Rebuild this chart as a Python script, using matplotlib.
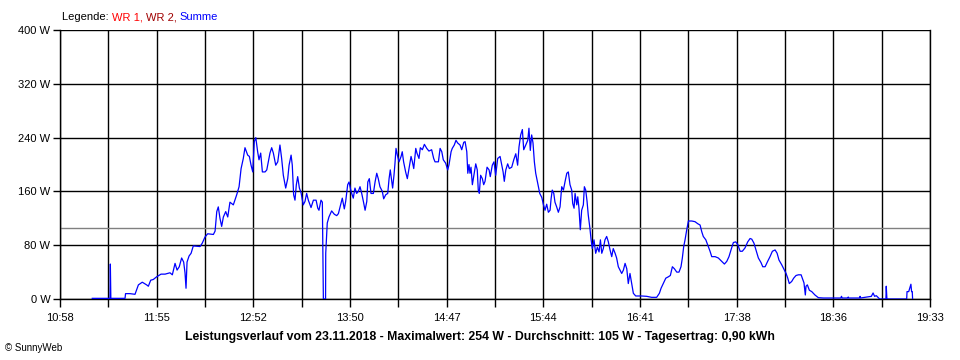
# -*- coding: utf-8 -*-
# Leistungsverlauf (SunnyWeb) nachgebaut
import matplotlib
matplotlib.use('Agg')
import matplotlib.pyplot as plt
from matplotlib.ticker import FixedLocator, NullFormatter

plt.rcParams['font.family'] = ['Liberation Sans', 'DejaVu Sans']

# Zeitachse (Minuten seit Mitternacht)
t_start = 658   # 10:58
t_end = 1173    # 19:33
tick_labels = ['10:58', '11:55', '12:52', '13:50', '14:47',
               '15:44', '16:41', '17:38', '18:36', '19:33']
y_ticks = [0, 80, 160, 240, 320, 400]
avg_w = 105

# Summe (W) - Messzeitpunkte in Minuten seit Mitternacht
t_min = [677.1, 686.6, 687.6, 687.8, 688.1, 696.5, 696.8, 699.4, 702.4, 704.4,
         706.7, 709.3, 710.3, 711.7, 713.2, 715.2, 717.8, 720.2, 723.1, 724.5,
         726.1, 727.3, 728.6, 730.0, 731.2, 732.0, 732.6, 733.2, 734.4, 735.6,
         736.9, 740.9, 742.2, 743.8, 745.4, 748.8, 749.8, 750.8, 751.7, 752.7,
         753.7, 754.7, 756.1, 757.3, 758.6, 760.6, 762.6, 764.0, 765.2, 766.5,
         767.5, 769.1, 770.1, 771.1, 772.1, 773.0, 773.9, 775.0, 775.8, 776.8,
         777.8, 779.4, 780.4, 781.3, 782.3, 783.3, 784.3, 785.7, 786.9, 788.2,
         789.2, 790.2, 791.6, 792.8, 793.6, 794.8, 795.5, 796.3, 797.1, 797.9,
         798.7, 799.7, 800.7, 802.0, 803.0, 804.0, 805.0, 806.6, 808.0, 809.6,
         810.6, 811.3, 812.5, 813.3, 813.9, 815.2, 815.3, 816.2, 817.2, 818.8,
         820.4, 821.8, 822.8, 823.8, 825.1, 826.3, 827.1, 828.3, 829.1, 830.3,
         831.6, 832.6, 833.6, 834.6, 835.6, 836.6, 837.6, 838.6, 839.6, 840.2,
         841.1, 842.1, 843.5, 844.5, 845.5, 846.4, 847.4, 848.8, 849.6, 850.8,
         852.0, 852.8, 853.5, 854.4, 854.9, 855.7, 856.3, 856.9, 857.7, 858.7,
         859.9, 860.6, 861.4, 862.6, 863.6, 864.6, 865.8, 866.6, 867.4, 868.6,
         869.3, 870.5, 871.3, 872.5, 873.7, 875.1, 876.4, 878.0, 879.2, 880.0,
         882.0, 883.0, 884.0, 884.9, 886.3, 887.5, 888.3, 889.5, 890.2, 891.4,
         892.4, 893.4, 894.8, 895.8, 897.0, 897.8, 898.8, 899.4, 900.1, 900.7,
         901.3, 902.1, 903.3, 904.1, 905.0, 905.6, 906.2, 907.0, 908.0, 908.8,
         909.6, 910.8, 912.0, 912.7, 913.9, 914.9, 915.9, 917.1, 918.5, 919.5,
         920.3, 921.0, 921.9, 923.0, 924.0, 925.4, 926.6, 927.8, 928.9, 929.7,
         930.7, 931.7, 932.5, 933.7, 934.9, 935.6, 936.4, 937.2, 938.0, 938.8,
         939.6, 940.4, 941.2, 942.0, 943.2, 944.1, 945.1, 946.1, 947.1, 948.1,
         948.7, 949.4, 950.3, 951.0, 952.0, 953.0, 954.0, 955.0, 956.0, 957.0,
         958.0, 958.9, 959.9, 960.9, 961.5, 962.3, 962.9, 963.9, 964.5, 965.2,
         966.0, 966.8, 967.8, 968.4, 969.2, 970.0, 970.7, 971.6, 972.4, 973.1,
         974.1, 975.1, 976.1, 977.1, 977.9, 978.7, 979.6, 980.6, 981.6, 982.6,
         983.6, 984.6, 985.5, 986.6, 987.5, 988.5, 989.5, 990.5, 991.5, 992.5,
         993.5, 994.4, 995.4, 996.4, 997.4, 998.8, 1002.3, 1005.3, 1008.2, 1011.2,
         1012.8, 1013.8, 1015.1, 1016.6, 1018.1, 1019.3, 1020.5, 1021.7, 1023.1, 1024.4,
         1025.6, 1026.4, 1027.2, 1028.0, 1029.0, 1030.0, 1032.0, 1033.9, 1035.5, 1036.9,
         1037.9, 1038.8, 1040.3, 1041.8, 1042.8, 1043.8, 1045.8, 1047.7, 1049.7, 1051.3,
         1052.7, 1054.0, 1055.2, 1056.6, 1058.0, 1059.2, 1060.6, 1061.9, 1063.5, 1065.1,
         1066.5, 1067.5, 1068.8, 1070.0, 1071.4, 1073.0, 1074.0, 1075.4, 1076.9, 1078.3,
         1079.7, 1081.3, 1082.5, 1083.6, 1085.2, 1086.6, 1087.8, 1088.8, 1089.7, 1091.1,
         1092.3, 1093.7, 1095.1, 1096.7, 1097.4, 1098.4, 1099.2, 1099.6, 1100.4, 1101.6,
         1103.0, 1104.9, 1106.9, 1109.9, 1120.2, 1120.6, 1121.0, 1124.3, 1124.6, 1124.9,
         1131.3, 1131.6, 1131.9, 1138.3, 1139.3, 1140.2, 1141.2, 1142.6, 1143.2, 1146.9,
         1147.1, 1147.5, 1159.2, 1159.4, 1160.4, 1161.7, 1162.1, 1162.5, 1162.7]
summe_w = [1, 1, 1, 52, 1, 1, 8, 8, 7, 21,
           25, 21, 19, 28, 29, 33, 37, 37, 39, 36,
           53, 43, 48, 61, 55, 39, 16, 55, 64, 68,
           79, 78, 83, 92, 97, 96, 101, 130, 137, 120,
           108, 122, 130, 122, 144, 140, 155, 167, 194, 209,
           225, 214, 212, 199, 189, 234, 240, 219, 207, 217,
           189, 189, 192, 204, 217, 225, 217, 199, 204, 229,
           209, 184, 165, 179, 199, 214, 199, 155, 147, 170,
           182, 165, 158, 140, 145, 157, 147, 136, 147, 147,
           135, 132, 147, 144, 0, 0, 68, 113, 122, 131,
           126, 124, 127, 137, 150, 134, 145, 170, 174, 160,
           150, 165, 157, 160, 167, 157, 145, 132, 145, 174,
           179, 157, 157, 174, 187, 179, 167, 160, 149, 155,
           157, 179, 192, 175, 165, 184, 202, 224, 214, 204,
           212, 219, 204, 189, 179, 194, 212, 204, 194, 224,
           217, 209, 225, 222, 230, 224, 220, 222, 209, 204,
           204, 224, 219, 207, 202, 192, 200, 219, 224, 229,
           236, 232, 229, 222, 233, 234, 219, 187, 200, 187,
           196, 170, 189, 201, 192, 162, 157, 184, 179, 170,
           175, 196, 192, 182, 199, 204, 184, 209, 212, 199,
           189, 175, 192, 201, 194, 196, 207, 216, 199, 226,
           244, 252, 222, 229, 236, 254, 221, 244, 232, 204,
           187, 177, 167, 157, 151, 141, 132, 141, 129, 132,
           149, 162, 157, 144, 137, 129, 137, 167, 162, 175,
           187, 189, 170, 162, 142, 135, 157, 140, 152, 135,
           103, 132, 140, 167, 162, 145, 125, 107, 88, 75,
           88, 68, 77, 70, 88, 68, 75, 88, 93, 85,
           73, 63, 75, 68, 61, 48, 43, 38, 43, 53,
           45, 23, 38, 23, 8.5, 4.5, 4.5, 4, 2.5, 2.5,
           8.5, 16, 23, 31, 33, 35, 48, 45, 40, 40,
           48, 61, 78, 88, 103, 116, 116, 115, 112, 110,
           100, 93, 88, 78, 71, 63, 63, 61, 56, 52,
           56, 63, 73, 84, 85, 81, 71, 71, 76, 85,
           90, 89, 83, 73, 61, 54, 48, 48, 56, 63,
           71, 73, 68, 58, 51, 44, 38, 31, 23, 26,
           31, 35, 36, 36, 31, 24, 6, 19, 21, 13,
           11, 6, 2, 1.5, 1.5, 4, 1.5, 1.5, 3, 1.5,
           1.5, 4, 1.5, 4, 9, 4, 5, 1.5, 0, 0,
           19, 0, 0, 11, 11, 22, 11, 11, 0]

fig = plt.figure(figsize=(9.6, 3.6), dpi=100)
ax = fig.add_axes([0.0625, 0.1694, 0.90625, 0.7472])

grid_step = (t_end - t_start) / 18.0
grid_pos = [t_start + i * grid_step for i in range(19)]
major_pos = grid_pos[::2]

# Gitter
for gx in grid_pos:
    ax.axvline(gx, color='black', lw=1.0, zorder=1)
for gy in y_ticks:
    ax.axhline(gy, color='black', lw=1.0, zorder=1)
# Durchschnitt
ax.axhline(avg_w, color='#808080', lw=1.0, zorder=2)

ax.plot(t_min, summe_w, color='#0000ff', lw=0.9, zorder=3)

ax.set_xlim(t_start, t_end)
ax.set_ylim(0, 400)

ax.xaxis.set_major_locator(FixedLocator(major_pos))
ax.xaxis.set_minor_locator(FixedLocator(grid_pos))
ax.set_xticklabels(tick_labels)
ax.xaxis.set_minor_formatter(NullFormatter())
ax.set_yticks(y_ticks)
ax.set_yticklabels(['%d W' % v for v in y_ticks])
ax.tick_params(axis='x', which='both', direction='out', length=6, width=1,
               labelsize=8, pad=4)
ax.tick_params(axis='y', direction='out', length=5, width=1, labelsize=8, pad=2)
for s in ['top', 'right', 'left', 'bottom']:
    ax.spines[s].set_linewidth(1.0)
ax.spines['top'].set_visible(False)

# Legende oben
t0 = fig.text(62 / 960, 1 - 17 / 360, 'Legende: ', fontsize=8, va='center', ha='left')
parts = [('WR 1, ', '#ff0000'), ('WR 2, ', '#a00000'), ('Summe', '#0000ff')]
prev = t0
for txt, col in parts:
    prev = ax.annotate(txt, xy=(1, 0), xycoords=prev, va='bottom', ha='left',
                       fontsize=8, color=col, annotation_clip=False)

fig.text(0.5, 1 - 337 / 360,
         'Leistungsverlauf vom 23.11.2018 - Maximalwert: 254 W - Durchschnitt: 105 W - Tagesertrag: 0,90 kWh',
         fontsize=8.8, fontweight='bold', ha='center', va='center')
fig.text(5 / 960, 1 - 348 / 360, '\u00a9 SunnyWeb', fontsize=7, ha='left', va='center')

plt.savefig('out.png', dpi=100)
plt.close()
